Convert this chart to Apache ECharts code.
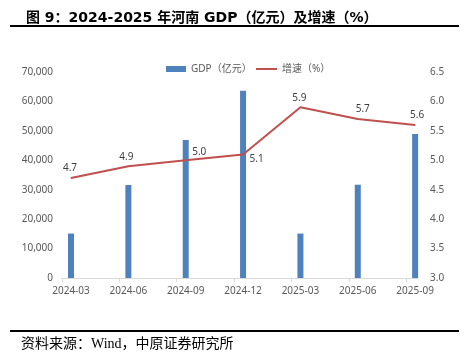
<!DOCTYPE html>
<html><head><meta charset="utf-8">
<script src="https://cdn.jsdelivr.net/npm/echarts@6/dist/echarts.min.js"></script>
<style>html,body{margin:0;padding:0;background:#fff}#c{width:469px;height:362px}</style>
</head><body><div id="c"></div>
<script>
const categories = ['2024-03','2024-06','2024-09','2024-12','2025-03','2025-06','2025-09'];
const gdp = [15100, 31600, 46900, 63590, 15100, 31700, 48900];
const growth = [4.7, 4.9, 5.0, 5.1, 5.9, 5.7, 5.6];
const leftTicks = [0, 10000, 20000, 30000, 40000, 50000, 60000, 70000];
const rightTicks = [3.0, 3.5, 4.0, 4.5, 5.0, 5.5, 6.0, 6.5];

const labelStyle = [
  {position:'top', offset:[-1,0]},
  {position:'top', offset:[-2,0]},
  {position:'right', offset:[2,-8]},
  {position:'right', offset:[2,5]},
  {position:'top', offset:[-1,0]},
  {position:'top', offset:[5,0]},
  {position:'top', offset:[2,0]}
];

const X_MIN = -0.157, X_MAX = 6.05;
const tickVals = categories.map((c,i)=> X_MIN + i);
const font = '"Noto Sans", "Noto Sans CJK SC", sans-serif';

const chart = echarts.init(document.getElementById('c'));
chart.setOption({
  animation:false,
  textStyle:{fontFamily:font},
  title:{text:'图 9：2024-2025 年河南 GDP（亿元）及增速（%）', left:21, top:6,
    textStyle:{fontSize:14, fontWeight:'bold', color:'#000', fontFamily:'"DejaVu Sans", "Noto Sans CJK SC", sans-serif'}},
  graphic:[
    {type:'rect', shape:{x:10, y:25, width:449, height:2}, style:{fill:'#000'}},
    {type:'rect', shape:{x:10, y:330, width:449, height:2}, style:{fill:'#000'}},
    {type:'text', left:21, top:337, style:{text:'资料来源：Wind，中原证券研究所', fontSize:14, fill:'#000', fontFamily:'"Liberation Serif", "Noto Sans CJK SC", serif'}}
  ],
  legend:[
    {data:['GDP（亿元）'], left:161, top:59, itemWidth:20, itemHeight:6, itemGap:0,
      textStyle:{fontSize:10, color:'#595959'}, icon:'rect'},
    {data:['增速（%）'], left:251, top:59, itemWidth:21, itemHeight:2,
      textStyle:{fontSize:10, color:'#595959'}, icon:'rect'}
  ],
  grid:{left:62, right:51, top:72, bottom:84},
  xAxis:{type:'value', min:X_MIN, max:X_MAX, interval:1,
    axisLine:{show:true, lineStyle:{color:'#d9d9d9'}},
    axisTick:{show:true, length:4, lineStyle:{color:'#d9d9d9'}, customValues:tickVals},
    axisLabel:{customValues:categories.map((c,i)=>i), formatter:v=>categories[Math.round(v)], fontSize:10, color:'#595959', margin:8},
    splitLine:{show:false}},
  yAxis:[
    {type:'value', min:leftTicks[0], max:leftTicks[leftTicks.length-1], interval:10000,
      axisLine:{show:false}, axisTick:{show:false}, splitLine:{show:false},
      axisLabel:{fontSize:10, color:'#595959', margin:9, formatter:v=>v.toLocaleString('en-US')}},
    {type:'value', min:rightTicks[0], max:rightTicks[rightTicks.length-1], interval:0.5,
      axisLine:{show:false}, axisTick:{show:false}, splitLine:{show:false},
      axisLabel:{fontSize:10, color:'#595959', margin:12, formatter:v=>v.toFixed(1)}}
  ],
  series:[
    {name:'GDP（亿元）', type:'bar', barWidth:6, itemStyle:{color:'#4F81BD'},
      data:gdp.map((v,i)=>[i,v])},
    {name:'增速（%）', type:'line', yAxisIndex:1, symbol:'circle', symbolSize:1, showSymbol:true,
      lineStyle:{color:'#C0504D', width:2}, itemStyle:{color:'#C0504D'},
      data:growth.map((v,i)=>({value:[i,v], label:{show:true, position:labelStyle[i].position, offset:labelStyle[i].offset,
        distance:4, fontSize:10, color:'#404040', formatter:p=>p.value[1].toFixed(1)}}))}
  ]
});
</script></body></html>
